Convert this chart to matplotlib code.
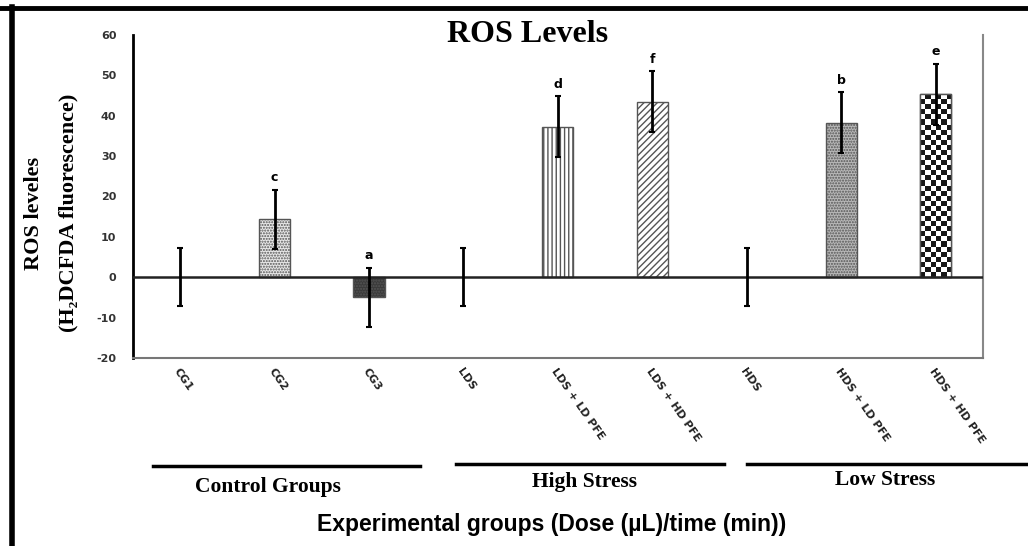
import numpy as np
import matplotlib
matplotlib.use("Agg")
import matplotlib.pyplot as plt
from matplotlib.lines import Line2D

categories = ["CG1", "CG2", "CG3", "LDS", "LDS + LD PFE", "LDS + HD PFE",
              "HDS", "HDS + LD PFE", "HDS + HD PFE"]
values = [0.0, 14.3, -5.0, 0.0, 37.3, 43.5, 0.0, 38.3, 45.3]
errors = [7.2, 7.3, 7.3, 7.2, 7.5, 7.5, 7.2, 7.5, 7.5]
letters = ["", "c", "a", "", "d", "f", "", "b", "e"]
groups = ["Control Groups", "High Stress", "Low Stress"]
yticks = [-20, -10, 0, 10, 20, 30, 40, 50, 60]

plt.rcParams['hatch.linewidth'] = 1.0

fig = plt.figure(figsize=(10.28, 5.46), dpi=100)
ax = fig.add_axes([0.1294, 0.3443, 0.8266, 0.5917])

x = np.arange(len(categories))
faces = ["white", "#e8e8e8", "#3a3a3a", "white", "white", "white", "white", "#b8b8b8", "white"]
hatches = [None, "......", "......", None, "||||", "/////", None, "......", None]
bars = ax.bar(x, values, width=0.33, color=faces, edgecolor="#555555", linewidth=1.0)
for b, h, v in zip(bars, hatches, values):
    if h:
        b.set_hatch(h)
    if v == 0:
        b.set_visible(False)

# checkerboard fill for last bar
last = bars[-1]
bx, by, bw, bh = last.get_x(), last.get_y(), last.get_width(), last.get_height()
nx, ny = 6, 36
checker = (np.add.outer(np.arange(ny), np.arange(nx)) % 2).astype(float)
im = ax.imshow(checker, cmap="gray", vmin=-0.1, vmax=1, extent=(bx, bx + bw, by, by + bh),
               aspect="auto", interpolation="nearest", zorder=last.get_zorder() + 0.1,
               origin="lower")
im.set_clip_path(last)
ax.bar([x[-1]], [values[-1]], width=0.33, color="none", edgecolor="#555555",
       linewidth=1.0, zorder=last.get_zorder() + 0.2)

ax.errorbar(x, values, yerr=errors, fmt="none", ecolor="black", elinewidth=2,
            capsize=2.5, capthick=1.5, zorder=5)
ax.axhline(0, color="#222222", linewidth=1.8, zorder=4)

for xi, v, e, l in zip(x, values, errors, letters):
    if l:
        ax.annotate(l, (xi, v + e), xytext=(0, 4), textcoords="offset points",
                    ha="center", va="bottom", fontsize=9, fontweight="bold",
                    family="DejaVu Sans")

ax.set_xlim(-0.5, len(categories) - 0.5)
ax.set_ylim(-20, 60)
ax.set_yticks(yticks)
ax.set_yticklabels([str(t) for t in yticks], fontsize=8, fontweight="bold", color="#333333")
ax.tick_params(axis="y", length=0, pad=12)
ax.set_xticks(x)
ax.set_xticklabels(categories, rotation=-55, ha="left", va="top", rotation_mode="anchor",
                   fontsize=8, fontweight="bold", color="#222222")
ax.tick_params(axis="x", length=0, pad=6)

ax.spines["top"].set_visible(False)
ax.spines["left"].set_color("black")
ax.spines["left"].set_linewidth(2.0)
ax.spines["right"].set_color("#888888")
ax.spines["right"].set_linewidth(1.5)
ax.spines["bottom"].set_color("#777777")
ax.spines["bottom"].set_linewidth(1.5)

fig.text(0.5136, 0.936, "ROS Levels", ha="center", va="center", fontsize=23,
         fontweight="bold", family="Liberation Serif")

fig.text(0.033, 0.61, "ROS leveles", rotation=90, ha="center", va="center",
         fontsize=16, fontweight="bold", family="Liberation Serif")
fig.text(0.067, 0.61, "(H\u2082DCFDA fluorescence)", rotation=90, ha="center", va="center",
         fontsize=16, fontweight="bold", family="Liberation Serif")

# outer frame lines
fig.add_artist(Line2D([0.0, 1.0], [0.985, 0.985], color="black", linewidth=3.5,
                      transform=fig.transFigure))
fig.add_artist(Line2D([0.0115, 0.0115], [0.0, 0.987], color="black", linewidth=4,
                      transform=fig.transFigure))

# group lines and labels
group_lines = [(0.149, 0.409, 0.1465), (0.444, 0.704, 0.150), (0.727, 1.0, 0.150)]
group_text = [(0.261, 0.108), (0.569, 0.117), (0.861, 0.121)]
for (x0, x1, yl), (tx, ty), g in zip(group_lines, group_text, groups):
    fig.add_artist(Line2D([x0, x1], [yl, yl], color="black", linewidth=2.5,
                          transform=fig.transFigure))
    fig.text(tx, ty, g, ha="center", va="center", fontsize=15.5, fontweight="bold",
             family="Liberation Serif")

fig.text(0.537, 0.04, "Experimental groups (Dose (\u00b5L)/time (min))", ha="center",
         va="center", fontsize=16.5, fontweight="bold", family="Liberation Sans")

fig.savefig("out.png", dpi=100)
